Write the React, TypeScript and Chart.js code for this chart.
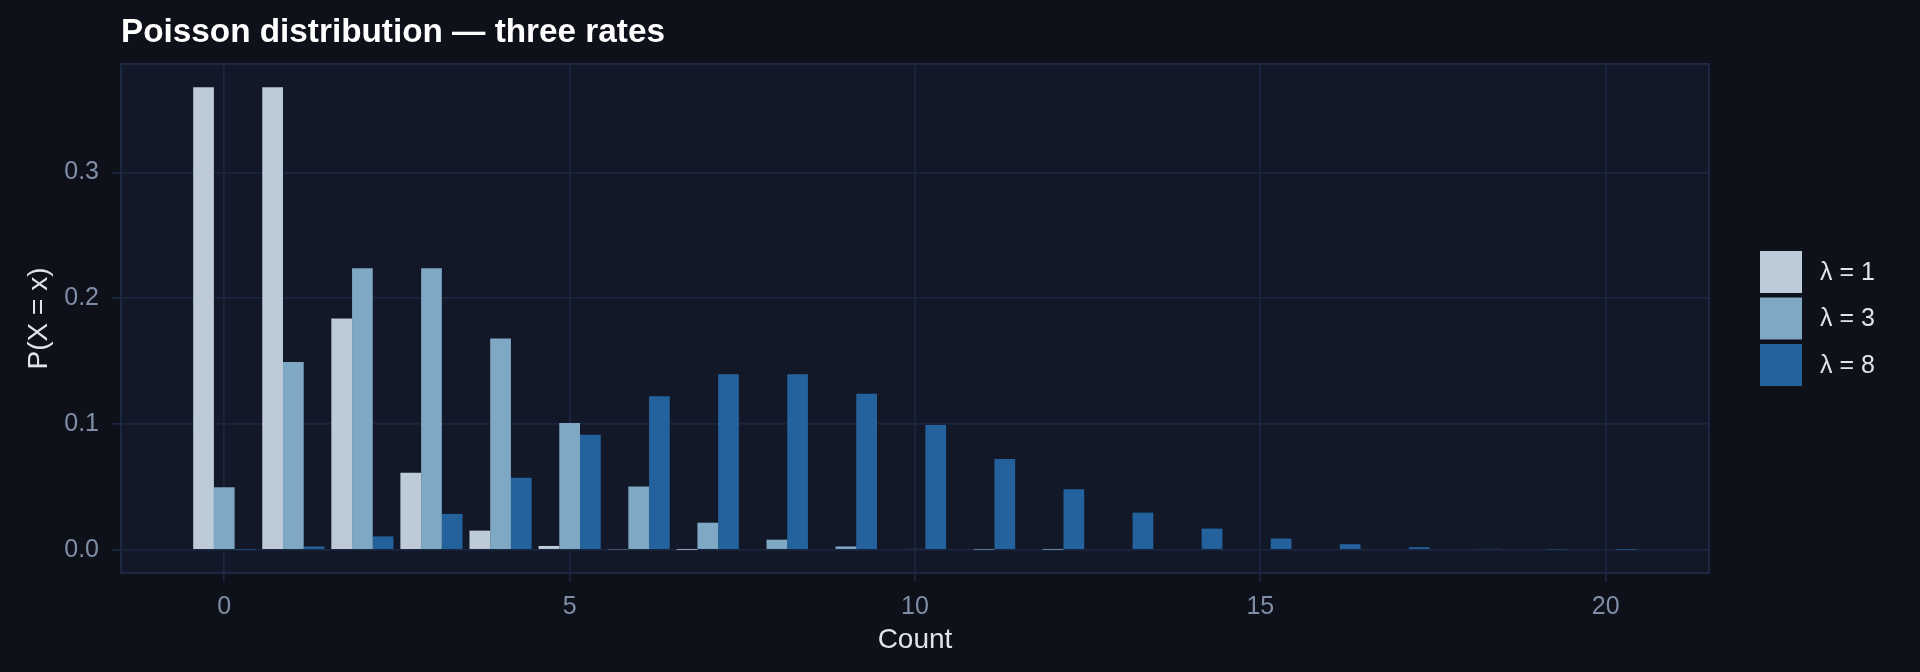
import React, { useEffect, useRef } from 'react';
import Chart from 'chart.js/auto';

const counts = [0, 1, 2, 3, 4, 5, 6, 7, 8, 9, 10, 11, 12, 13, 14, 15, 16, 17, 18, 19, 20];

const rate1 = [
	0.3679, 0.3679, 0.1839, 0.0613, 0.0153, 0.0031, 0.0005, 0.0001, 0.0, 0.0, 0.0,
	0.0, 0.0, 0.0, 0.0, 0.0, 0.0, 0.0, 0.0, 0.0, 0.0,
];
const rate3 = [
	0.0498, 0.1494, 0.224, 0.224, 0.168, 0.1008, 0.0504, 0.0216, 0.0081, 0.0027, 0.0008,
	0.0002, 0.0001, 0.0, 0.0, 0.0, 0.0, 0.0, 0.0, 0.0, 0.0,
];
const rate8 = [
	0.0003, 0.0027, 0.0107, 0.0286, 0.0573, 0.0916, 0.1221, 0.1396, 0.1396, 0.1241, 0.0993,
	0.0722, 0.0481, 0.0296, 0.0169, 0.009, 0.0045, 0.0021, 0.0009, 0.0004, 0.0002,
];

const seriesLabels = ['λ = 1', 'λ = 3', 'λ = 8'];
const seriesColors = ['#bdcbd8', '#7ea8c3', '#23629d'];

const titleText = 'Poisson distribution — three rates';
const xTitle = 'Count';
const yTitle = 'P(X = x)';

const FONT = '"Liberation Sans", Arial, Helvetica, sans-serif';
const BG = '#0e1119';
const PANEL = '#121827';
const GRID = '#1a2640';
const BORDER = '#1e2a45';
const TICK_TEXT = '#7f8ea6';
const LABEL_TEXT = '#dfe3ea';

// panel background, border, title and legend, ggplot style
const panelPlugin = {
	id: 'panelDecor',
	beforeDraw(chart: any) {
		const { ctx, chartArea: a, width, height } = chart;
		ctx.save();
		ctx.fillStyle = BG;
		ctx.fillRect(0, 0, width, height);
		ctx.fillStyle = PANEL;
		ctx.fillRect(a.left, a.top, a.right - a.left, a.bottom - a.top);
		ctx.restore();
	},
	afterDraw(chart: any) {
		const { ctx, chartArea: a } = chart;
		ctx.save();
		ctx.strokeStyle = BORDER;
		ctx.lineWidth = 1.8;
		ctx.strokeRect(a.left, a.top, a.right - a.left, a.bottom - a.top);

		ctx.fillStyle = '#ffffff';
		ctx.font = `bold 33.3px ${FONT}`;
		ctx.textAlign = 'left';
		ctx.textBaseline = 'alphabetic';
		ctx.fillText(titleText, a.left, 42);

		const key = 42;
		const step = 46.5;
		const n = chart.data.datasets.length;
		const mid = (a.top + a.bottom) / 2;
		const top0 = mid - (key * n + (step - key) * (n - 1)) / 2;
		const keyX = a.right + 51;
		ctx.font = `25px ${FONT}`;
		ctx.textBaseline = 'middle';
		chart.data.datasets.forEach((ds: any, i: number) => {
			const y = top0 + i * step;
			ctx.fillStyle = ds.backgroundColor;
			ctx.fillRect(keyX, y, key, key);
			ctx.fillStyle = LABEL_TEXT;
			ctx.fillText(ds.label, keyX + key + 18, y + key / 2 + 1);
		});
		ctx.restore();
	},
};

const App: React.FC = () => {
	const canvasRef = useRef<HTMLCanvasElement | null>(null);
	const chartRef = useRef<Chart | null>(null);

	useEffect(() => {
		const canvas = canvasRef.current;
		if (!canvas) return;
		const ctx = canvas.getContext('2d');
		if (!ctx) return;

		if (chartRef.current) {
			chartRef.current.destroy();
		}

		const series = [rate1, rate3, rate8];

		chartRef.current = new Chart(ctx, {
			type: 'bar',
			data: {
				labels: counts,
				datasets: series.map((values, i) => ({
					label: seriesLabels[i],
					data: values,
					backgroundColor: seriesColors[i],
					borderWidth: 0,
					categoryPercentage: 0.9,
					barPercentage: 1.0,
				})),
			},
			options: {
				animation: false,
				responsive: true,
				maintainAspectRatio: false,
				layout: { padding: { top: 64, right: 211, bottom: 0, left: 0 } },
				plugins: {
					legend: { display: false },
					tooltip: { enabled: false },
					title: { display: false },
				},
				scales: {
					x: {
						type: 'linear',
						min: -1.495,
						max: 21.495,
						offset: false,
						grid: { color: GRID, lineWidth: 1.8, tickLength: 9, offset: false },
						border: { display: false },
						ticks: {
							stepSize: 5,
							includeBounds: false,
							autoSkip: false,
							maxRotation: 0,
							padding: 10,
							color: TICK_TEXT,
							font: { family: FONT, size: 25 },
							callback: (v: any) => String(v),
						},
						title: {
							display: true,
							text: xTitle,
							color: LABEL_TEXT,
							font: { family: FONT, size: 28 },
							padding: { top: 0, bottom: 15 },
						},
						afterFit: (s: any) => {
							s.height = 99;
						},
					},
					y: {
						type: 'linear',
						min: -0.0184,
						max: 0.3863,
						grid: { color: GRID, lineWidth: 1.8, tickLength: 9 },
						border: { display: false },
						ticks: {
							stepSize: 0.1,
							includeBounds: false,
							padding: 13,
							color: TICK_TEXT,
							font: { family: FONT, size: 25 },
							callback: (v: any) => Number(v).toFixed(1),
						},
						title: {
							display: true,
							text: yTitle,
							color: LABEL_TEXT,
							font: { family: FONT, size: 28 },
							padding: { top: 22.7, bottom: 0 },
						},
						afterFit: (s: any) => {
							s.width = 121;
						},
					},
				},
			},
			plugins: [panelPlugin],
		} as any);

		return () => {
			if (chartRef.current) {
				chartRef.current.destroy();
				chartRef.current = null;
			}
		};
	}, []);

	return (
		<div style={{ position: 'fixed', left: 0, top: 0, width: 1920, height: 672, background: BG }}>
			<canvas ref={canvasRef} />
		</div>
	);
};

export default App;
